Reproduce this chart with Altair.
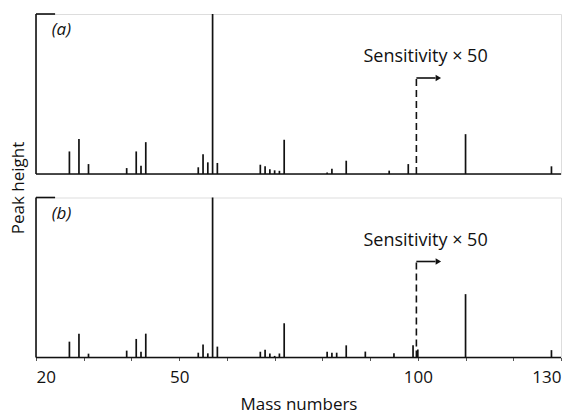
import altair as alt
import pandas as pd

# Mass spectra: peak positions (mass numbers) and relative peak heights
mass_a = [27, 29, 31, 39, 41, 42, 43, 54, 55, 56, 57, 58, 67, 68, 69, 70, 71, 72,
          81, 82, 85, 94, 98, 110, 128]
height_a = [14.1, 21.8, 6.2, 3.7, 14.1, 5.2, 19.9, 4.2, 12.4, 7.3, 100, 6.9, 5.8, 4.8,
            3.0, 2.3, 2.0, 21.4, 1.0, 3.3, 8.3, 2.1, 6.2, 24.9, 4.8]

mass_b = [27, 29, 31, 39, 41, 42, 43, 54, 55, 56, 57, 58, 67, 68, 69, 70, 71, 72,
          81, 82, 83, 85, 89, 95, 99, 100, 110, 128]
height_b = [9.9, 14.9, 2.4, 4.3, 11.6, 3.6, 14.9, 3.0, 8.2, 2.6, 100, 6.8, 3.6, 4.8,
            2.5, 1.0, 2.5, 21.4, 3.6, 3.0, 3.0, 7.6, 3.7, 2.6, 7.6, 5.0, 39.6, 4.6]

tick_values = [20, 30, 40, 50, 60, 70, 80, 90, 100, 110, 120, 130]
label_values = [20, 50, 100, 130]

MASS_MIN, MASS_MAX = 20, 130
SENS_MASS = 99.7        # where the x50 sensitivity starts
SENS_LEVEL = 60         # height of the sensitivity marker
SENS_TEXT = "Sensitivity \u00d7 50"

FONT = "Open Sans"
INK = "#111111"

xscale = alt.Scale(domain=[MASS_MIN, MASS_MAX], nice=False, zero=False)
yscale = alt.Scale(domain=[0, 100], nice=False)


def panel(masses, heights, label, bottom):
    peaks = pd.DataFrame({"mass": masses, "height": heights, "zero": 0})

    if bottom:
        x_axis = alt.Axis(
            values=tick_values,
            labelExpr="indexof([20, 50, 100, 130], datum.value) >= 0 ? datum.label : ''",
            domain=False, grid=False, ticks=True, tickSize=3, tickColor="#555",
            labelFont=FONT, labelFontSize=17, labelColor=INK, labelPadding=9,
            title="Mass numbers", titleFont=FONT, titleFontSize=17,
            titleFontWeight="normal", titleColor=INK,
            titleBaseline="alphabetic", titleY=52,
        )
        y_axis = alt.Axis(
            title="Peak height", labels=False, ticks=False, domain=False, grid=False,
            titleFont=FONT, titleFontSize=17, titleFontWeight="normal", titleColor=INK,
            titleAngle=-90, titleBaseline="middle", titleAlign="center",
            titleX=-18, titleY=-10,
        )
    else:
        x_axis = None
        y_axis = None

    bars = alt.Chart(peaks).mark_rule(color=INK, strokeWidth=1.7).encode(
        x=alt.X("mass:Q", scale=xscale, axis=x_axis),
        y=alt.Y("height:Q", scale=yscale, axis=y_axis),
        y2="zero:Q",
    )

    frame = pd.DataFrame({"x0": [MASS_MIN], "x1": [MASS_MAX], "cap": [MASS_MIN + 4],
                          "lo": [0], "hi": [100]})
    baseline = alt.Chart(frame).mark_rule(color=INK, strokeWidth=1.6).encode(
        x=alt.X("x0:Q", scale=xscale), x2="x1:Q", y=alt.Y("lo:Q", scale=yscale)
    )
    yline = alt.Chart(frame).mark_rule(color=INK, strokeWidth=1.6).encode(
        x=alt.X("x0:Q", scale=xscale), y=alt.Y("lo:Q", scale=yscale), y2="hi:Q"
    )
    ycap = alt.Chart(frame).mark_rule(color=INK, strokeWidth=1.6).encode(
        x=alt.X("x0:Q", scale=xscale), x2="cap:Q", y=alt.Y("hi:Q", scale=yscale)
    )

    sens = pd.DataFrame({"m": [SENS_MASS], "m2": [SENS_MASS + 4.0],
                         "tip": [SENS_MASS + 4.6], "lvl": [SENS_LEVEL], "lo": [0],
                         "tm": [88.6], "tl": [73], "txt": [SENS_TEXT]})
    dashed = alt.Chart(sens).mark_rule(color=INK, strokeWidth=1.6, strokeDash=[7, 4]).encode(
        x=alt.X("m:Q", scale=xscale), y=alt.Y("lo:Q", scale=yscale), y2="lvl:Q"
    )
    arrow = alt.Chart(sens).mark_rule(color=INK, strokeWidth=1.6).encode(
        x=alt.X("m:Q", scale=xscale), x2="m2:Q", y=alt.Y("lvl:Q", scale=yscale)
    )
    head = alt.Chart(sens).mark_point(
        shape="triangle-right", filled=True, color=INK, size=40, opacity=1
    ).encode(x=alt.X("tip:Q", scale=xscale), y=alt.Y("lvl:Q", scale=yscale))
    sens_text = alt.Chart(sens).mark_text(
        font=FONT, fontSize=18, color=INK, align="left", baseline="middle"
    ).encode(x=alt.X("tm:Q", scale=xscale), y=alt.Y("tl:Q", scale=yscale), text="txt:N")

    lab = pd.DataFrame({"m": [23.3], "h": [90], "t": [label]})
    lab_text = alt.Chart(lab).mark_text(
        font=FONT, fontSize=17, fontStyle="italic", color=INK, align="left", baseline="middle"
    ).encode(x=alt.X("m:Q", scale=xscale), y=alt.Y("h:Q", scale=yscale), text="t:N")

    return alt.layer(
        bars, baseline, yline, ycap, dashed, arrow, head, sens_text, lab_text
    ).properties(width=525, height=160)


top = panel(mass_a, height_a, "(a)", bottom=False)
bottom = panel(mass_b, height_b, "(b)", bottom=True)

chart = alt.vconcat(top, bottom, spacing=23.5, bounds="flush").properties(
    padding={"left": 8, "top": 12, "right": 5, "bottom": 12}
).configure_view(stroke=None).configure(background="white")

chart.save("out.html", embed_options={"renderer": "svg", "actions": False})
